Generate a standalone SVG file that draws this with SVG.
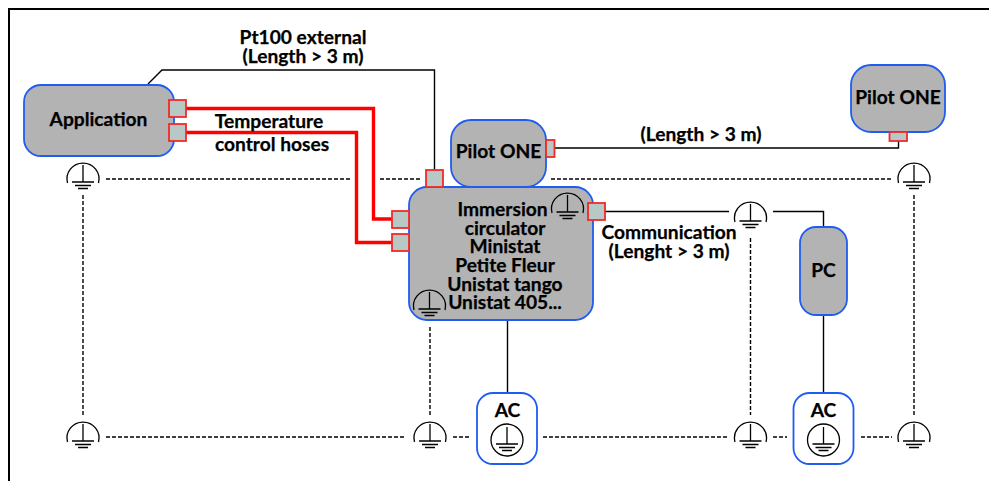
<svg xmlns="http://www.w3.org/2000/svg" xmlns:xlink="http://www.w3.org/1999/xlink" width="989" height="481" viewBox="0 0 989 481">
<style>
.n{fill:#b3b3b3;stroke:#1f5cf0;stroke-width:1.8}
.w{fill:#fff;stroke:#1f5cf0;stroke-width:1.8}
.p{fill:#b8c8c4;stroke:#f02a2a;stroke-width:1.8}
.c{fill:none;stroke:#000;stroke-width:1.4}
.d{fill:none;stroke:#000;stroke-width:1.4;stroke-dasharray:4 2}
.h{fill:none;stroke:#f00;stroke-width:3.400}
text{font-family:"Lato","Liberation Sans",sans-serif;font-weight:700;font-size:19.200px;fill:#000;text-anchor:middle;stroke:#000;stroke-width:.25}
.s{fill:none;stroke:#000;stroke-width:1.3}
</style>
<defs>
<g id="gnd"><path class="s" d="M-15.500 5A16 16 0 1 1 15.500 5M0-13V4M-11 4H11M-8 7.500H8M-5 10.500H5"/></g>
<g id="gndc"><circle class="s" r="16"/><path class="s" d="M0-13V4M-11 4H11M-8 7.500H8M-5 10.500H5"/></g>
</defs>
<rect width="989" height="481" fill="#fff"/>
<path d="M9 481V9H989" fill="none" stroke="#000" stroke-width="2"/>
<g id="connectors">
<path class="c" d="M148 84L162 70H434.500V170"/>
<path class="h" d="M186 108.500H373.500V219H392"/>
<path class="h" d="M186 132.500H356.500V242.500H392"/>
<path class="c" d="M554 148H898.500V141"/>
<path class="c" d="M605 211.500H729M773 211.500H823.500V227"/>
<path class="c" d="M823.500 315V393"/>
<path class="c" d="M507.500 320V393"/>
<path class="d" d="M106 179H350M380 179H420M551 179H892"/>
<path class="d" d="M83 195V415M430 327V415M750.500 238V415M914 195V415"/>
<path class="d" d="M106 437H406M453 437H471M543 437H727M773 437H787M861 437H892"/>
</g>
<g id="application"><rect class="n" x="24" y="85" width="150" height="71" rx="17"/><text x="98.500" y="126">Application</text>
<rect class="p" x="169" y="100" width="17" height="17"/><rect class="p" x="169" y="124" width="17" height="17"/></g>
<g id="circulator"><rect class="n" x="409" y="187" width="184" height="133" rx="18"/>
<text><tspan x="502.500" y="216">Immersion</tspan><tspan x="505" y="234.500">circulator</tspan><tspan x="505" y="253">Ministat</tspan><tspan x="505" y="272">Petite Fleur</tspan><tspan x="505" y="290.500">Unistat tango</tspan><tspan x="505" y="309">Unistat 405...</tspan></text>
<use xlink:href="#gnd" x="567.500" y="208"/><use xlink:href="#gnd" x="429.500" y="305"/>
<rect class="p" x="426" y="170" width="17" height="17"/><rect class="p" x="392" y="211" width="17" height="17"/><rect class="p" x="392" y="234" width="17" height="17"/><rect class="p" x="588" y="203" width="17" height="17"/></g>
<g id="pilot-one-a"><rect class="n" x="451" y="120" width="95" height="67" rx="20"/><text x="498.500" y="158">Pilot ONE</text><rect class="p" x="546" y="140" width="8.500" height="17"/></g>
<g id="pilot-one-b"><rect class="n" x="851" y="65" width="94" height="67" rx="20"/><text x="898" y="104">Pilot ONE</text><rect class="p" x="889.500" y="132" width="17.500" height="9"/></g>
<g id="pc"><rect class="n" x="800" y="227" width="47" height="88" rx="16"/><text x="823.500" y="277">PC</text></g>
<g id="ac-a"><rect class="w" x="477" y="393" width="60" height="71" rx="16"/><text x="507.500" y="417">AC</text><use xlink:href="#gndc" x="507" y="440"/></g>
<g id="ac-b"><rect class="w" x="793.500" y="393" width="60" height="71" rx="16"/><text x="823.500" y="417">AC</text><use xlink:href="#gndc" x="823.500" y="440"/></g>
<g id="grounds">
<use xlink:href="#gnd" x="83" y="178"/><use xlink:href="#gnd" x="914" y="178"/><use xlink:href="#gnd" x="750.500" y="217"/>
<use xlink:href="#gnd" x="83" y="437"/><use xlink:href="#gnd" x="430" y="437"/><use xlink:href="#gnd" x="750.500" y="437"/><use xlink:href="#gnd" x="914" y="437"/>
</g>
<g id="labels">
<text><tspan x="303" y="43.500">Pt100 external</tspan><tspan x="303" y="62.500">(Length &gt; 3 m)</tspan></text>
<text x="269" y="127.500">Temperature</text><text x="272" y="150.500">control hoses</text>
<text x="701" y="140.500">(Length &gt; 3 m)</text>
<text><tspan x="669" y="238.500">Communication</tspan><tspan x="669" y="257.500">(Lenght &gt; 3 m)</tspan></text>
</g>
</svg>
